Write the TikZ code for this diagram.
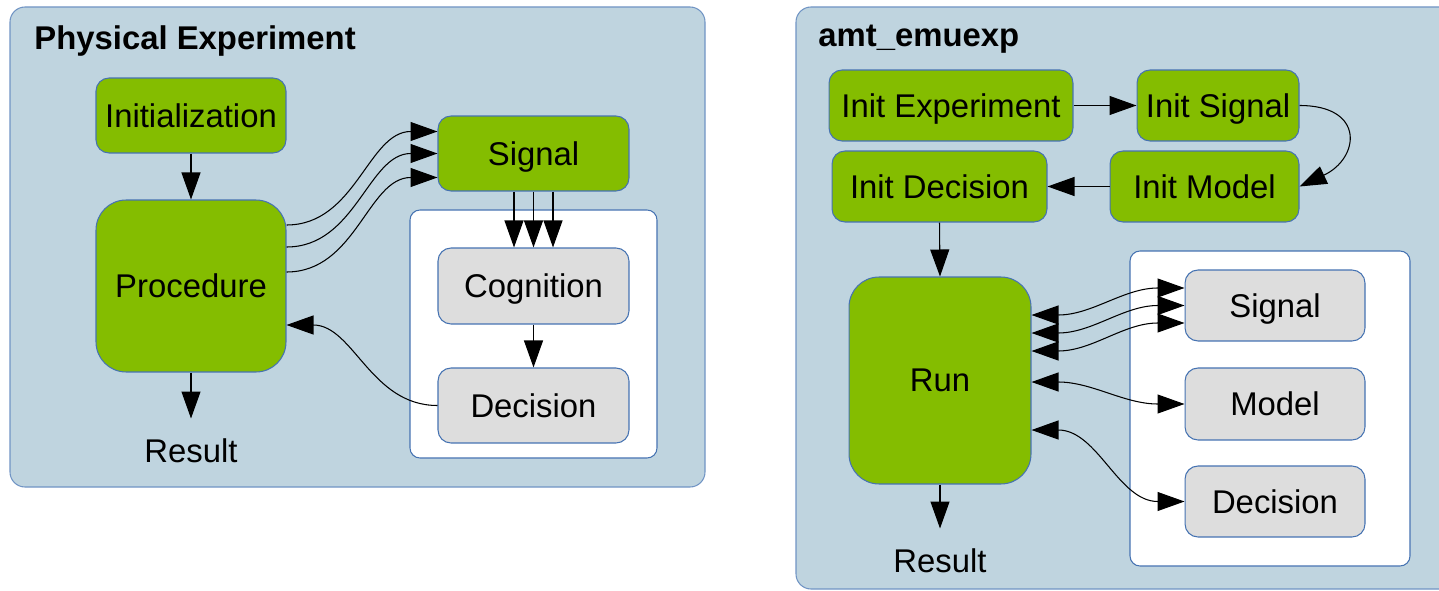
\documentclass[tikz,border=0pt]{standalone}
\usepackage{fontspec}
\setmainfont{Liberation Sans}
\usetikzlibrary{arrows.meta,positioning,calc}
\definecolor{panel}{HTML}{BFD4DF}
\definecolor{panelline}{HTML}{7094C4}
\definecolor{boxline}{HTML}{4673B2}
\definecolor{leaf}{HTML}{84BD00}
\definecolor{soft}{HTML}{DDDDDD}
\newcommand\nodefont{\fontsize{18.7pt}{22pt}\selectfont}

\begin{document}
\begin{tikzpicture}[x=0.02cm,y=-0.02cm,
  frame/.style={draw=panelline,fill=panel,line width=0.6pt,rounded corners=0.3cm},
  inner/.style={draw=boxline,fill=white,line width=0.6pt,rounded corners=0.2cm},
  box/.style={draw=boxline,line width=0.6pt,rounded corners=0.26cm,inner sep=0pt,text depth=0pt,font=\nodefont},
  act/.style={box,fill=leaf},
  part/.style={box,fill=soft},
  title/.style={font=\nodefont\bfseries,inner sep=0pt,text depth=0pt,anchor=west},
  result/.style={font=\nodefont,inner xsep=0pt,inner ysep=0.4cm},
  link/.style={-{Triangle[length=0.54cm,width=0.38cm]},line width=0.6pt},
  bilink/.style={{Triangle[length=0.54cm,width=0.38cm]}-{Triangle[length=0.54cm,width=0.38cm]},line width=0.6pt}]
\clip (0,0) rectangle (1439,591);
\draw[frame] (10,7) rectangle (705,487);
\draw[frame] (796,7) rectangle (1480,589);
\draw[inner] (410,210) rectangle (657,458);
\draw[inner] (1130,251) rectangle (1410,566);
\node[title] (tl) at (34,38) {Physical Experiment};
\node[title] (tr) at (818,36) {amt\_emuexp};
% left: physical experiment
\node[act,minimum width=3.8cm,minimum height=1.5cm] (init) at (191,115.5) {Initialization};
\node[act,minimum width=3.8cm,minimum height=3.44cm,rounded corners=0.6cm] (proc) at (191,286) {Procedure};
\node[result,below=0.92cm of proc] (resl) {Result};
\node[act,minimum width=3.82cm,minimum height=1.5cm] (sigl) at (533.5,153.5) {Signal};
\node[part,minimum width=3.82cm,minimum height=1.52cm] (cog) at (533.5,286) {Cognition};
\node[part,minimum width=3.82cm,minimum height=1.5cm] (decl) at (533.5,405.5) {Decision};
\draw[link] (init) -- (proc);
\draw[link] (proc) -- (resl);
\draw[link] ($(proc.east)+(0,-61)$) to[out=0,in=180] ($(sigl.west)+(0,-22)$);
\draw[link] ($(proc.east)+(0,-39)$) to[out=0,in=180] ($(sigl.west)+(0,0)$);
\draw[link] ($(proc.east)+(0,-14)$) to[out=0,in=180] ($(sigl.west)+(0,24)$);
\draw[link] ($(sigl.south)+(-19.5,0)$) -- ($(cog.north)+(-19.5,0)$);
\draw[link] (sigl.south) -- (cog.north);
\draw[link] ($(sigl.south)+(19.5,0)$) -- ($(cog.north)+(19.5,0)$);
\draw[link] (cog) -- (decl);
\draw[link] (decl.west) to[out=180,in=0] ($(proc.east)+(0,39)$);
% right: amt_emuexp
\node[act,minimum width=4.88cm,minimum height=1.42cm] (iexp) at (951,105.5) {Init Experiment};
\node[act,minimum width=3.24cm,minimum height=1.42cm] (isig) at (1218,105.5) {Init Signal};
\node[act,minimum width=4.3cm,minimum height=1.42cm] (idec) at (939.5,186.5) {Init Decision};
\node[act,minimum width=3.78cm,minimum height=1.42cm] (imod) at (1204.5,186.5) {Init Model};
\node[act,minimum width=3.64cm,minimum height=4.14cm,rounded corners=0.6cm] (run) at (940,380.5) {Run};
\node[result,below=0.88cm of run] (resr) {Result};
\node[part,minimum width=3.6cm,minimum height=1.42cm] (sigr) at (1275,305.5) {Signal};
\node[part,minimum width=3.6cm,minimum height=1.44cm] (modr) at (1275,404) {Model};
\node[part,minimum width=3.6cm,minimum height=1.42cm] (decr) at (1275,501.5) {Decision};
\draw[link] (iexp) -- (isig);
\draw[link] (isig.east) to[out=0,in=25,looseness=2.1] (imod.east);
\draw[link] (imod) -- (idec);
\draw[link] (idec.south) -- (run.north);
\draw[link] (run) -- (resr);
\draw[bilink] ($(run.east)+(0,-65.5)$) to[out=0,in=180] ($(sigr.west)+(0,-17.5)$);
\draw[bilink] ($(run.east)+(0,-47.5)$) to[out=0,in=180] (sigr.west);
\draw[bilink] ($(run.east)+(0,-29.5)$) to[out=0,in=180] ($(sigr.west)+(0,17.5)$);
\draw[bilink] ($(run.east)+(0,1.5)$) to[out=0,in=180] (modr.west);
\draw[bilink] ($(run.east)+(0,49.5)$) to[out=0,in=180] (decr.west);
\end{tikzpicture}
\end{document}
